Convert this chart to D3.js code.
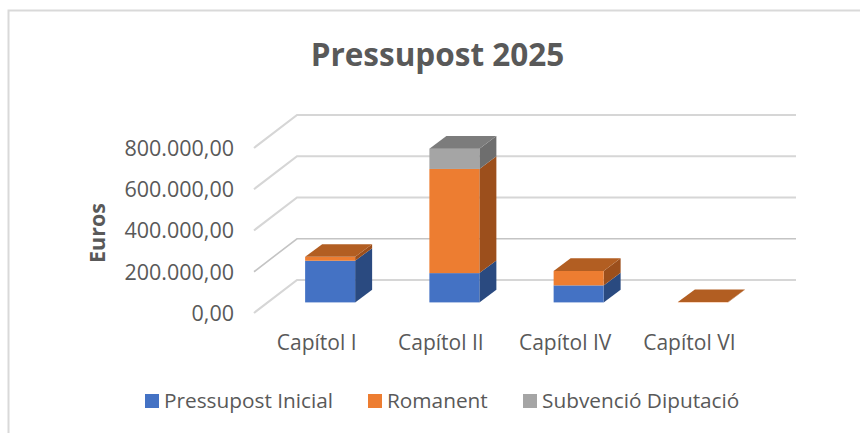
<!DOCTYPE html>
<html><head><meta charset="utf-8">
<script src="https://cdn.jsdelivr.net/npm/d3@7/dist/d3.min.js"></script>
<style>html,body{margin:0;padding:0;background:#fff}svg{display:block}text{font-family:"Open Sans",sans-serif}</style>
</head><body><svg id="c" width="860" height="433"></svg>
<script>
const categories = ["Capítol I","Capítol II","Capítol IV","Capítol VI"];
const seriesNames = ["Pressupost Inicial","Romanent","Subvenció Diputació"];
const pressupostInicial = [202000,142000,82500,0];
const romanent = [19000,505000,70000,1500];
const subvencio = [0,98500,0,0];
const ticks = [0,200000,400000,600000,800000];
const frontColors = ["#4472c4","#ed7d31","#a5a5a5"];
const sideColors = ["#2a4a80","#9c4f1c","#6e6e6e"];
const topColors = ["#35599a","#b25e22","#7c7c7c"];

const svg = d3.select("#c");
const W = 860, H = 433;
// chart frame
svg.append("path").attr("d",`M8.5,${H}V10.5H${W}`).attr("fill","none").attr("stroke","#d9d9d9").attr("stroke-width",2);

const x = d3.scaleBand().domain(categories).range([254,751]);
const y = d3.scaleLinear().domain([0,800000]).range([313,148]);
const wallDx = 43, wallDy = -33, gridRight = 796, barInsetX = 14, barInsetY = -10.6, barDx = 17, barDy = -12.6, barW = 50;

// gridlines
const gridG = svg.append("g");
ticks.forEach(t=>{
  const yy = y(t);
  gridG.append("path")
    .attr("d",`M${x.range()[0]},${yy}L${x.range()[0]+wallDx},${yy+wallDy}H${gridRight}`)
    .attr("fill","none").attr("stroke", t===200000 ? "#c4c4c4" : "#d6d6d6")
    .attr("stroke-width", t===200000 ? 1.6 : 2.2);
});

// stacked boxes
const columns = [pressupostInicial,romanent,subvencio];
categories.forEach((c,i)=>{
  const left = x(c)+x.bandwidth()/2-barW/2+barInsetX;
  let sum = 0, lastTop = null, lastS = 0;
  columns.forEach((col,s)=>{
    const v = col[i];
    if(v<=0) return;
    const y0 = y(sum)+barInsetY, y1 = y(sum+v)+barInsetY;
    sum += v; lastTop = y1; lastS = s;
    svg.append("path").attr("fill",sideColors[s])
      .attr("d",`M${left+barW},${y0}l${barDx},${barDy}V${y1+barDy}L${left+barW},${y1}Z`);
    svg.append("rect").attr("x",left).attr("y",y1).attr("width",barW).attr("height",y0-y1).attr("fill",frontColors[s]);
  });
  if(lastTop!==null){
    svg.append("path").attr("fill",topColors[lastS])
      .attr("d",`M${left},${lastTop}l${barDx},${barDy}h${barW}l${-barDx},${-barDy}Z`);
  }
});

// y axis
const fmt = v => d3.format(",.2f")(v).replace(/,/g,"#").replace(".",",").replace(/#/g,".");
const yAxis = svg.append("g").attr("transform","translate(234,0)")
  .call(d3.axisLeft(y).tickValues(ticks).tickFormat(fmt).tickSize(0).tickPadding(0));
yAxis.select(".domain").remove();
yAxis.selectAll("text").attr("font-size",21.5).attr("fill","#595959").attr("dy","0.36em")
  .attr("y",-0.3);

// x axis
const xAxis = svg.append("g").attr("transform","translate(0.5,342)")
  .call(d3.axisBottom(x).tickSize(0).tickPadding(0));
xAxis.select(".domain").remove();
xAxis.selectAll("text").attr("font-size",21).attr("fill","#595959").attr("dy","0.36em").attr("y",0);

// titles
svg.append("text").attr("x",437.5).attr("y",66).attr("text-anchor","middle").attr("font-size",31.5).attr("font-weight",700).attr("fill","#595959").text("Pressupost 2025");
svg.append("text").attr("transform","translate(105,233) rotate(-90)").attr("text-anchor","middle").attr("font-size",21.5).attr("font-weight",700).attr("fill","#595959").text("Euros");

// legend
const legendX = [145,368,523];
seriesNames.forEach((n,i)=>{
  svg.append("rect").attr("x",legendX[i]).attr("y",394).attr("width",14).attr("height",14).attr("fill",frontColors[i]);
  svg.append("text").attr("x",legendX[i]+19).attr("y",408).attr("font-size",20.8).attr("fill","#595959").text(n);
});
</script></body></html>
